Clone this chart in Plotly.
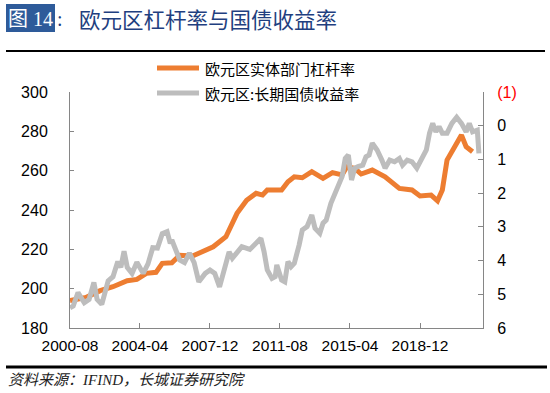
import plotly.graph_objects as go

# ---------------- data ----------------
lev_dates = ["2000-08", "2001-06", "2002-03", "2002-11", "2003-08", "2004-02", "2004-08",
             "2005-02", "2005-06", "2005-12", "2006-05", "2007-01", "2007-05", "2008-02",
             "2008-10", "2009-05", "2009-11", "2010-05", "2010-09", "2010-12", "2011-05",
             "2011-09", "2012-01", "2012-05", "2012-10", "2013-04", "2013-11", "2014-05",
             "2014-11", "2015-02", "2015-07", "2015-11", "2016-06", "2017-02", "2017-11",
             "2018-07", "2018-12", "2019-07", "2019-11", "2020-02", "2020-05", "2020-10",
             "2021-02", "2021-05", "2021-09"]
lev_values = [194.0, 195.5, 199.0, 201.0, 204.0, 204.7, 207.8,
              208.3, 212.9, 213.2, 217.0, 216.6, 218.0, 221.3,
              226.4, 238.3, 245.0, 248.5, 247.6, 250.2, 250.2,
              250.2, 254.4, 256.9, 256.4, 259.5, 256.1, 259.0,
              257.8, 262.0, 261.2, 258.3, 260.3, 256.9, 251.0,
              250.2, 247.1, 247.6, 244.7, 250.2, 265.4, 272.2,
              278.1, 272.2, 269.6]

yld_dates = ["2000-08", "2000-10", "2001-01", "2001-05", "2001-08", "2001-11", "2002-01",
             "2002-04", "2002-08", "2002-11", "2003-02", "2003-04", "2003-06", "2003-08",
             "2003-11", "2004-02", "2004-06", "2004-09", "2004-12", "2005-03", "2005-06",
             "2005-09", "2005-11", "2005-12", "2006-05", "2006-08", "2006-11", "2007-02",
             "2007-05", "2007-09", "2007-12", "2008-03", "2008-06", "2008-09", "2008-12",
             "2009-02", "2009-05", "2009-08", "2010-01", "2010-05", "2010-08", "2010-10",
             "2010-12", "2011-03", "2011-05", "2011-06", "2011-09", "2011-11", "2012-01",
             "2012-03", "2012-05", "2012-08", "2012-10", "2013-01", "2013-04", "2013-06",
             "2013-09", "2013-11", "2014-01", "2014-04", "2014-08", "2014-11", "2015-01",
             "2015-03", "2015-05", "2015-07", "2015-09", "2015-12", "2016-02", "2016-04",
             "2016-06", "2016-09", "2016-12", "2017-02", "2017-05", "2017-08", "2017-11",
             "2018-01", "2018-04", "2018-07", "2018-10", "2019-01", "2019-04", "2019-06",
             "2019-08", "2019-10", "2019-12", "2020-02", "2020-05", "2020-08", "2020-11",
             "2021-02", "2021-05", "2021-07", "2021-09", "2021-12", "2022-01"]
yld_values = [5.40, 5.35, 4.95, 5.25, 5.15, 4.65, 5.15,
              5.30, 4.60, 4.48, 4.03, 4.20, 3.72, 4.20,
              4.38, 4.05, 4.38, 4.10, 3.62, 3.63, 3.20,
              3.14, 3.49, 3.39, 3.98, 4.06, 3.78, 4.06,
              4.63, 4.38, 4.28, 4.38, 4.78, 4.18, 3.74,
              3.93, 3.78, 3.59, 3.67, 3.49, 3.34, 3.74,
              4.28, 4.53, 4.48, 4.13, 4.58, 4.63, 4.03,
              4.18, 4.08, 3.54, 3.09, 2.99, 2.65, 3.04,
              3.19, 2.89, 2.80, 2.30, 1.81, 1.51, 0.97,
              0.87, 1.61, 1.26, 1.21, 1.17, 0.92, 0.87,
              0.52, 0.72, 1.02, 1.26, 1.02, 1.07, 0.97,
              1.17, 1.02, 1.07, 1.26, 1.02, 0.72, 0.22,
              -0.07, 0.18, 0.03, 0.22, 0.22, -0.07, -0.25,
              -0.07, 0.18, -0.07, 0.18, 0.13, 0.82]

x_tick_labels = ["2000-08", "2004-04", "2007-12", "2011-08", "2015-04", "2018-12"]
left_ticks = [180, 200, 220, 240, 260, 280, 300]
right_ticks = [-1, 0, 1, 2, 3, 4, 5, 6]
right_tick_text = ["<span style='color:#FF0000'>(1)</span>", "0", "1", "2", "3", "4", "5", "6"]

lev_name = "欧元区实体部门杠杆率"
yld_name = "欧元区:长期国债收益率"
title_tag = "图 14"
title_text = "欧元区杠杆率与国债收益率"
source_text = "资料来源：IFIND，长城证券研究院"

# ---------------- layout geometry ----------------
W, H = 550, 393
L, R, T, B = 70, 483, 92, 328


def px(x):
    return (x - L) / (R - L)


def py(y):
    return (B - y) / (B - T)


ORANGE = "#ED7D31"
GRAY = "#BDBDBD"
AXIS = "#868686"
CJK = "Noto Sans CJK SC"
LAT = "Liberation Sans, Arial, sans-serif"

fig = go.Figure()
fig.add_trace(go.Scatter(x=lev_dates, y=lev_values, mode="lines", name=lev_name,
                         line=dict(color=ORANGE, width=5), yaxis="y"))
fig.add_trace(go.Scatter(x=yld_dates, y=yld_values, mode="lines", name=yld_name,
                         line=dict(color=GRAY, width=5), yaxis="y2"))

fig.update_layout(
    width=W, height=H,
    margin=dict(l=L, r=W - R, t=T, b=H - B, pad=0),
    paper_bgcolor="white", plot_bgcolor="white",
    showlegend=False,
    xaxis=dict(type="date", range=["2000-08-01", "2022-03-20"],
               tickvals=[t + "-01" for t in x_tick_labels], ticktext=x_tick_labels,
               showline=True, linecolor=AXIS, linewidth=1, showgrid=False, zeroline=False,
               ticks="inside", ticklen=5, tickcolor=AXIS,
               tickfont=dict(family=LAT, size=15.5, color="#000000"), ticklabelstandoff=3),
    yaxis=dict(range=[180, 300], tickvals=left_ticks,
               showline=True, linecolor=AXIS, linewidth=1, showgrid=False, zeroline=False,
               ticks="inside", ticklen=4, tickcolor=AXIS,
               tickfont=dict(family=LAT, size=16, color="#000000"), ticklabelstandoff=18),
    yaxis2=dict(range=[6, -1], overlaying="y", side="right", tickvals=right_ticks,
                ticktext=right_tick_text,
                showline=True, linecolor=AXIS, linewidth=1, showgrid=False, zeroline=False,
                ticks="inside", ticklen=5, tickcolor=AXIS,
                tickfont=dict(family=LAT, size=16, color="#000000"), ticklabelstandoff=10),
)

shapes = []
# title tag box
shapes.append(dict(type="rect", xref="paper", yref="paper",
                   x0=px(6), x1=px(55), y0=py(4), y1=py(32),
                   fillcolor="#2E5B9A", line=dict(width=0), layer="above"))
# rule under title
shapes.append(dict(type="line", xref="paper", yref="paper",
                   x0=px(6), x1=px(545), y0=py(51), y1=py(51),
                   line=dict(color="#000000", width=2)))
# rule above source
shapes.append(dict(type="line", xref="paper", yref="paper",
                   x0=px(6), x1=px(547), y0=py(367), y1=py(367),
                   line=dict(color="#000000", width=3)))
# legend samples
shapes.append(dict(type="line", xref="paper", yref="paper",
                   x0=px(157), x1=px(199), y0=py(68), y1=py(68),
                   line=dict(color=ORANGE, width=5)))
shapes.append(dict(type="line", xref="paper", yref="paper",
                   x0=px(157), x1=px(199), y0=py(93), y1=py(93),
                   line=dict(color=GRAY, width=5)))
fig.update_layout(shapes=shapes)

ann = []
ann.append(dict(xref="paper", yref="paper", x=px(30.5), y=py(18.5), text=title_tag,
                showarrow=False, xanchor="center", yanchor="middle",
                font=dict(family="Liberation Serif, " + CJK, size=20, color="#FFFFFF")))
ann.append(dict(xref="paper", yref="paper", x=px(55), y=py(18.5), text=":",
                showarrow=False, xanchor="left", yanchor="middle",
                font=dict(family="Liberation Serif, " + CJK, size=20, color="#1F3F80")))
ann.append(dict(xref="paper", yref="paper", x=px(77), y=py(18.5), text=title_text,
                showarrow=False, xanchor="left", yanchor="middle",
                font=dict(family=CJK, size=21.5, color="#1F3F80")))
ann.append(dict(xref="paper", yref="paper", x=px(203), y=py(68), text=lev_name,
                showarrow=False, xanchor="left", yanchor="middle",
                font=dict(family=CJK, size=15, color="#000000")))
ann.append(dict(xref="paper", yref="paper", x=px(203), y=py(93), text=yld_name,
                showarrow=False, xanchor="left", yanchor="middle",
                font=dict(family=CJK, size=15, color="#000000")))
ann.append(dict(xref="paper", yref="paper", x=px(6), y=py(380), text="<i>" + source_text + "</i>",
                showarrow=False, xanchor="left", yanchor="middle",
                font=dict(family="Liberation Serif, " + CJK, size=15, color="#222222")))
fig.update_layout(annotations=ann)

fig.write_html("out.html", config={"displayModeBar": False},
               post_script="document.body.style.margin='0';")
